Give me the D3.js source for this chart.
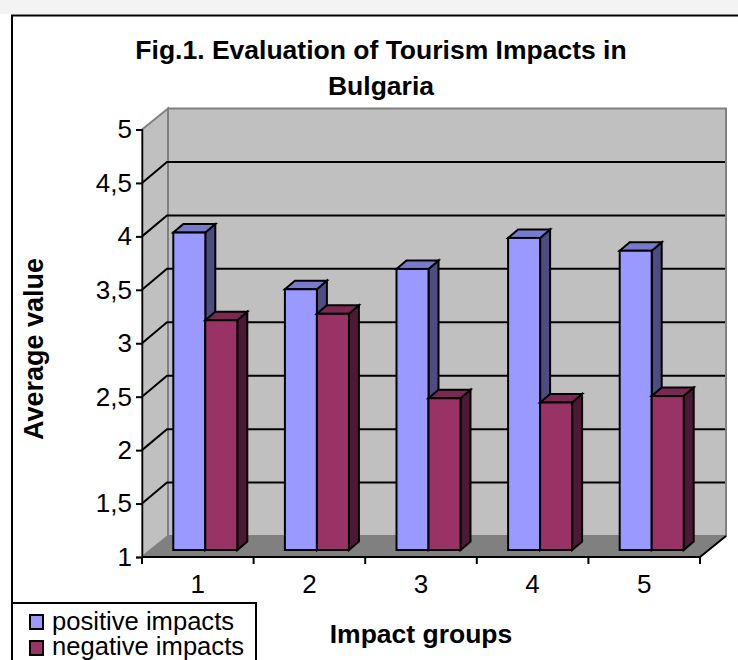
<!DOCTYPE html>
<html>
<head>
<meta charset="utf-8">
<script src="https://cdn.jsdelivr.net/npm/d3@7/dist/d3.min.js"></script>
<style>
html, body { margin: 0; padding: 0; background: #fff; overflow: hidden; }
svg { display: block; }
text { font-family: "Liberation Sans", Arial, sans-serif; fill: #000; }
</style>
</head>
<body>
<script>
// Chart data
const groups = ["1", "2", "3", "4", "5"];
const seriesNames = ["positive impacts", "negative impacts"];
const positiveValues = [3.97, 3.44, 3.63, 3.92, 3.80];
const negativeValues = [3.15, 3.21, 2.42, 2.38, 2.44];
const valueTicks = [1, 1.5, 2, 2.5, 3, 3.5, 4, 4.5, 5];
const titleLines = ["Fig.1. Evaluation of Tourism Impacts in", "Bulgaria"];

// Series colours: front, top and side faces of the extruded bars
const faces = {
  "positive impacts": { front: "#9999ff", top: "#7a7acc", side: "#4d4d80" },
  "negative impacts": { front: "#993366", top: "#7a2952", side: "#4d1a33" }
};

const W = 738, H = 660;
const svg = d3.select("body").append("svg").attr("width", W).attr("height", H);

// Page strip and chart frame
svg.append("rect").attr("width", W).attr("height", 14).attr("fill", "#f3f3f3");
svg.append("path").attr("d", `M12,${H}V15.5H${W}`).attr("fill", "none").attr("stroke", "#000").attr("stroke-width", 2);

// Scales for the front plane of the plot box
const x = d3.scaleBand().domain(groups).range([142, 700]);
const y = d3.scaleLinear().domain([1, 5]).range([557, 129.5]);
const series = d3.scaleBand().domain(seriesNames).range([0, 64]);

// Oblique offsets: plot box depth, bar inset from the front plane, bar depth
const boxDx = 26, boxDy = 21, insetDx = 7.5, insetDy = 7, barDx = 10, barDy = 8.5;

const [x0, x1] = x.range();
const yBase = y(1), yTop = y(5);

// Walls and floor
const box = svg.append("g");
box.append("rect")
  .attr("x", x0 + boxDx).attr("y", yTop - boxDy)
  .attr("width", x1 - x0).attr("height", yBase - yTop)
  .attr("fill", "#c0c0c0").attr("stroke", "#808080").attr("stroke-width", 2);
box.append("path")
  .attr("d", `M${x0},${yTop}L${x0 + boxDx},${yTop - boxDy}V${yBase - boxDy}L${x0},${yBase}Z`)
  .attr("fill", "#c0c0c0").attr("stroke", "#808080").attr("stroke-width", 2);
box.append("path")
  .attr("d", `M${x0},${yBase}L${x0 + boxDx},${yBase - boxDy}H${x1 + boxDx}L${x1},${yBase}Z`)
  .attr("fill", "#808080").attr("stroke", "#808080").attr("stroke-width", 1);

// Gridlines run along the side wall and across the back wall
const inner = valueTicks.filter(v => v > 1 && v < 5);
box.selectAll("path.grid").data(inner).join("path")
  .attr("class", "grid")
  .attr("d", v => `M${x0},${y(v)}L${x0 + boxDx - 1},${y(v) - boxDy}H${x1 + boxDx - 1}`)
  .attr("fill", "none").attr("stroke", "#000").attr("stroke-width", 2);

// Front edge of the floor and its right-hand diagonal
box.append("path")
  .attr("d", `M${x0},${yBase}H${x1}L${x1 + boxDx},${yBase - boxDy}`)
  .attr("fill", "none").attr("stroke", "#000").attr("stroke-width", 2);

// Bars, one group per category
const rows = groups.flatMap((g, i) => [
  { group: g, name: seriesNames[0], value: positiveValues[i] },
  { group: g, name: seriesNames[1], value: negativeValues[i] }
]);

const bar = svg.append("g").selectAll("g").data(rows).join("g")
  .attr("stroke", "#000").attr("stroke-width", 2).attr("stroke-linejoin", "miter");

const barLeft = d => x(d.group) + x.bandwidth() / 2 - series.bandwidth() + series(d.name) + insetDx;
const barRight = d => barLeft(d) + series.bandwidth();
const barTop = d => y(d.value) - insetDy;
const barBottom = yBase - insetDy;

bar.append("path")
  .attr("fill", d => faces[d.name].side)
  .attr("d", d => `M${barRight(d)},${barTop(d)}l${barDx},${-barDy}V${barBottom - barDy}L${barRight(d)},${barBottom}Z`);
bar.append("path")
  .attr("fill", d => faces[d.name].top)
  .attr("d", d => `M${barLeft(d)},${barTop(d)}l${barDx},${-barDy}H${barRight(d) + barDx}L${barRight(d)},${barTop(d)}Z`);
bar.append("rect")
  .attr("fill", d => faces[d.name].front)
  .attr("x", barLeft).attr("y", barTop)
  .attr("width", series.bandwidth())
  .attr("height", d => barBottom - barTop(d));

// Value axis
const yAxis = d3.axisLeft(y)
  .tickValues(valueTicks)
  .tickSize(6)
  .tickPadding(4)
  .tickFormat(v => String(v).replace(".", ","));
const yG = svg.append("g").attr("transform", `translate(${x0},0)`).call(yAxis);
yG.select(".domain").attr("stroke", "#000").attr("stroke-width", 1.5);
yG.selectAll(".tick line").attr("stroke", "#000").attr("stroke-width", 2);
yG.selectAll(".tick text").attr("font-size", 26).attr("font-family", "Liberation Sans");

// Category axis: ticks on the group boundaries, labels centred between them
const xAxis = d3.axisBottom(x).tickSize(0).tickPadding(18);
const xG = svg.append("g").attr("transform", `translate(0,${yBase})`).call(xAxis);
xG.select(".domain").remove();
xG.selectAll(".tick text").attr("font-size", 26).attr("font-family", "Liberation Sans");
xG.selectAll("line.boundary").data(d3.range(groups.length + 1)).join("line")
  .attr("class", "boundary")
  .attr("x1", i => x0 + i * x.step()).attr("x2", i => x0 + i * x.step())
  .attr("y1", 0).attr("y2", 7)
  .attr("stroke", "#000").attr("stroke-width", 2);

// Titles
svg.append("g").selectAll("text").data(titleLines).join("text")
  .attr("x", 381).attr("y", (d, i) => 59 + i * 36)
  .attr("text-anchor", "middle").attr("font-size", 26.5).attr("font-weight", "bold")
  .text(d => d);
svg.append("text")
  .attr("transform", "translate(43,349) rotate(-90)")
  .attr("text-anchor", "middle").attr("font-size", 27).attr("font-weight", "bold")
  .text("Average value");
svg.append("text")
  .attr("x", 421).attr("y", 643)
  .attr("text-anchor", "middle").attr("font-size", 26.5).attr("font-weight", "bold")
  .text("Impact groups");

// Legend
const legend = svg.append("g");
legend.append("path")
  .attr("d", `M12,603H256V${H}`)
  .attr("fill", "#fff").attr("stroke", "#000").attr("stroke-width", 2);
const item = legend.selectAll("g").data(seriesNames).join("g");
item.append("rect")
  .attr("x", 30).attr("y", (d, i) => 615 + i * 26).attr("width", 13).attr("height", 14)
  .attr("fill", d => faces[d].front).attr("stroke", "#000").attr("stroke-width", 2);
item.append("text")
  .attr("x", 52).attr("y", (d, i) => 630 + i * 24.5).attr("font-size", 25.6)
  .text(d => d);
</script>
</body>
</html>
